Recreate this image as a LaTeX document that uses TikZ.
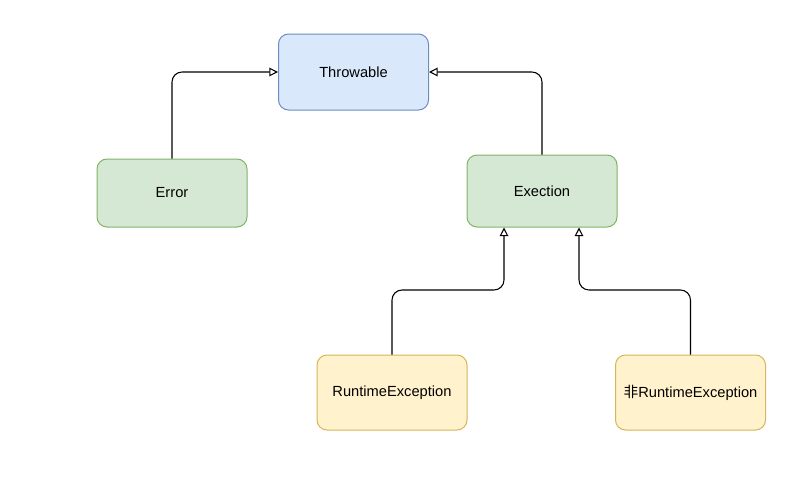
\documentclass[tikz,border=0pt]{standalone}
\usepackage{fontspec}
\setmainfont{Liberation Sans}
\newfontfamily\cjk{Noto Sans CJK SC}
\usetikzlibrary{arrows.meta}
\definecolor{bluefill}{HTML}{DAE8FC}
\definecolor{bluedraw}{HTML}{6C8EBF}
\definecolor{greenfill}{HTML}{D5E8D4}
\definecolor{greendraw}{HTML}{82B366}
\definecolor{yellowfill}{HTML}{FFF2CC}
\definecolor{yellowdraw}{HTML}{D6B656}
\begin{document}
\begin{tikzpicture}[x=0.75pt,y=-0.75pt,
  box/.style={draw, rounded corners=7.5pt, line width=0.75pt, minimum width=112.5pt, inner sep=0pt, font=\fontsize{11}{13}\selectfont, text=black},
  bluebox/.style={box, fill=bluefill, draw=bluedraw, minimum height=57pt},
  greenbox/.style={box, fill=greenfill, draw=greendraw},
  yellowbox/.style={box, fill=yellowfill, draw=yellowdraw, minimum height=56.25pt},
  link/.style={draw=black, line width=0.8pt, rounded corners=7.5pt, -{Triangle[open, length=6.5pt, width=6.5pt]}}
]
\useasboundingbox (0,0) rectangle (804,482);
\node[bluebox] (thr) at (353.5,72) {Throwable};
\node[greenbox, minimum height=51pt] (err) at (172,193) {Error};
\node[greenbox, minimum height=54pt] (exc) at (542,191) {Exection};
\node[yellowbox] (rt) at (392,392.5) {RuntimeException};
\node[yellowbox] (nrt) at (690.5,392.5) {{\cjk 非}RuntimeException};
\path[link] (err.north) |- (thr.west);
\path[link] (exc.north) |- (thr.east);
\path[link] (rt.north) -- (392,290) -| ([xshift=-28.5pt]exc.south);
\path[link] (nrt.north) -- (690.5,290) -| ([xshift=27.75pt]exc.south);
\end{tikzpicture}
\end{document}
